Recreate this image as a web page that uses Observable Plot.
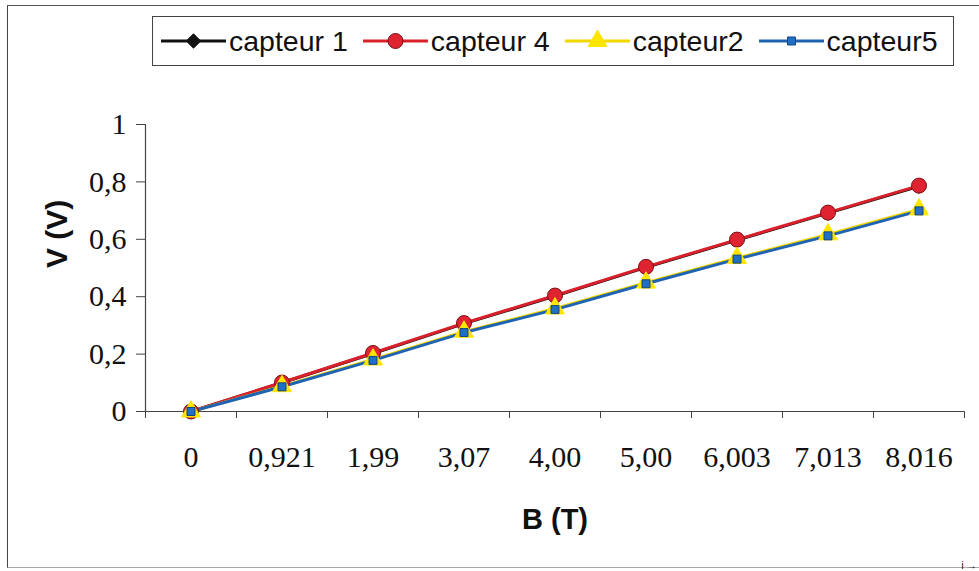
<!DOCTYPE html>
<html>
<head>
<meta charset="utf-8">
<script src="https://cdn.jsdelivr.net/npm/d3@7"></script>
<script src="https://cdn.jsdelivr.net/npm/@observablehq/plot@0.6"></script>
<style>
  html, body { margin: 0; padding: 0; background: #fff; overflow: hidden; }
  #wrap { position: relative; width: 979px; height: 571px; overflow: hidden; }
  #frame { position: absolute; left: 7px; top: 5px; width: 1100px; height: 561px;
           border-left: 1.5px solid #444; border-top: 1.5px solid #555; border-bottom: 1px solid #aaa; }
  #legend { position: absolute; left: 152px; top: 16px; width: 802px; height: 50px;
            border: 1.5px solid #444; box-sizing: border-box; background: #fff;
            display: flex; align-items: center; padding-left: 8px;
            font-family: Arial, "Liberation Sans", sans-serif; font-size: 28.5px; color: #111; }
  .item { display: flex; align-items: center; margin-right: 15px; }
  .item svg { margin-right: 3px; }
  #chart { position: absolute; left: 0; top: 0; }
</style>
</head>
<body>
<div id="wrap">
  <div id="frame"></div>
  <div id="chart"></div>
  <div id="legend"></div>
</div>
<script>
// Categories (x axis tick labels, B in tesla)
const categories = ["0", "0,921", "1,99", "3,07", "4,00", "5,00", "6,003", "7,013", "8,016"];
// Series values V (V)
const capteur1 = [0, 0.100, 0.202, 0.306, 0.402, 0.502, 0.597, 0.691, 0.785];
const capteur4 = [0, 0.101, 0.204, 0.308, 0.404, 0.504, 0.599, 0.693, 0.787];
const capteur2 = [0, 0.088, 0.181, 0.278, 0.359, 0.449, 0.535, 0.617, 0.704];
const capteur5 = [0, 0.086, 0.178, 0.275, 0.355, 0.445, 0.531, 0.612, 0.699];
// Y tick values
const yTicks = [0, 0.2, 0.4, 0.6, 0.8, 1];

const series = [
  {name: "capteur 1", values: capteur1, color: "#111111", fill: "#111111", stroke: "#111111", symbol: "diamond2", r: 6.5},
  {name: "capteur 4", values: capteur4, color: "#d9202b", fill: "#e02330", stroke: "#7a1016", symbol: "circle", r: 7.5},
  {name: "capteur2",  values: capteur2, color: "#f2d600", fill: "#ffe500", stroke: "#ffe500", symbol: "triangle", r: 7},
  {name: "capteur5",  values: capteur5, color: "#1f63b5", fill: "#1f6fc4", stroke: "#12457f", symbol: "square", r: 4.5}
];

const rows = series.map(s => s.values.map((v, i) => ({serie: s.name, i, v})));
const boundaries = d3.range(-0.5, categories.length, 1);
const serif = "'Liberation Serif', 'Times New Roman', serif";
const sans = "Arial, 'Liberation Sans', sans-serif";

const marks = [
  Plot.ruleY([0], {stroke: "#444", strokeWidth: 1.2}),
  Plot.ruleX([-0.5], {y1: 0, y2: 1, stroke: "#444", strokeWidth: 1.2}),
  Plot.axisX({ticks: boundaries, tickFormat: () => "", tickSize: 7, stroke: "#444"}),
  Plot.axisX({ticks: d3.range(categories.length), tickFormat: i => categories[i], tickSize: 0,
              tickPadding: 34, fontSize: 30, fontFamily: serif, fill: "#111", label: null}),
  Plot.axisY({ticks: yTicks, tickFormat: d => String(d).replace(".", ","), tickSize: 9,
              tickPadding: 10, fontSize: 30, fontFamily: serif, fill: "#111", stroke: "#444", label: null}),
  Plot.text(["V (V)"], {frameAnchor: "left", dx: -88, rotate: -90, fontSize: 30, fontWeight: "bold",
              fontFamily: sans, fill: "#111"}),
  Plot.text(["B (T)"], {frameAnchor: "bottom", dy: 117, fontSize: 29, fontWeight: "bold",
              fontFamily: sans, fill: "#111"})
];
series.forEach((s, k) => {
  marks.push(Plot.line(rows[k], {x: "i", y: "v", stroke: s.color, strokeWidth: 3}));
});
series.forEach((s, k) => {
  marks.push(Plot.dot(rows[k], {x: "i", y: "v", symbol: () => s.symbol, r: s.r, fill: s.fill,
              stroke: s.stroke, strokeWidth: 1}));
});

const plot = Plot.plot({
  width: 979,
  height: 571,
  marginLeft: 145,
  marginRight: 15,
  marginTop: 124,
  marginBottom: 160,
  style: {background: "transparent"},
  x: {type: "linear", domain: [-0.5, categories.length - 0.5], axis: null},
  y: {domain: [0, 1], axis: null},
  symbol: {type: "identity"},
  marks
});
document.getElementById("chart").appendChild(plot);

// Legend with line+marker swatches
const legend = d3.select("#legend");
series.forEach(s => {
  const item = legend.append("div").attr("class", "item");
  const svg = item.append("svg").attr("width", 65).attr("height", 24);
  svg.append("line").attr("x1", 0).attr("x2", 65).attr("y1", 12).attr("y2", 12)
     .attr("stroke", s.color).attr("stroke-width", 3);
  const sym = {diamond2: d3.symbolDiamond2, circle: d3.symbolCircle, triangle: d3.symbolTriangle, square: d3.symbolSquare}[s.symbol];
  svg.append("path").attr("transform", "translate(32.5,12)")
     .attr("d", d3.symbol(sym, Math.PI * s.r * s.r)())
     .attr("fill", s.fill).attr("stroke", s.stroke);
  item.append("span").text(s.name);
});
</script>
</body>
</html>
